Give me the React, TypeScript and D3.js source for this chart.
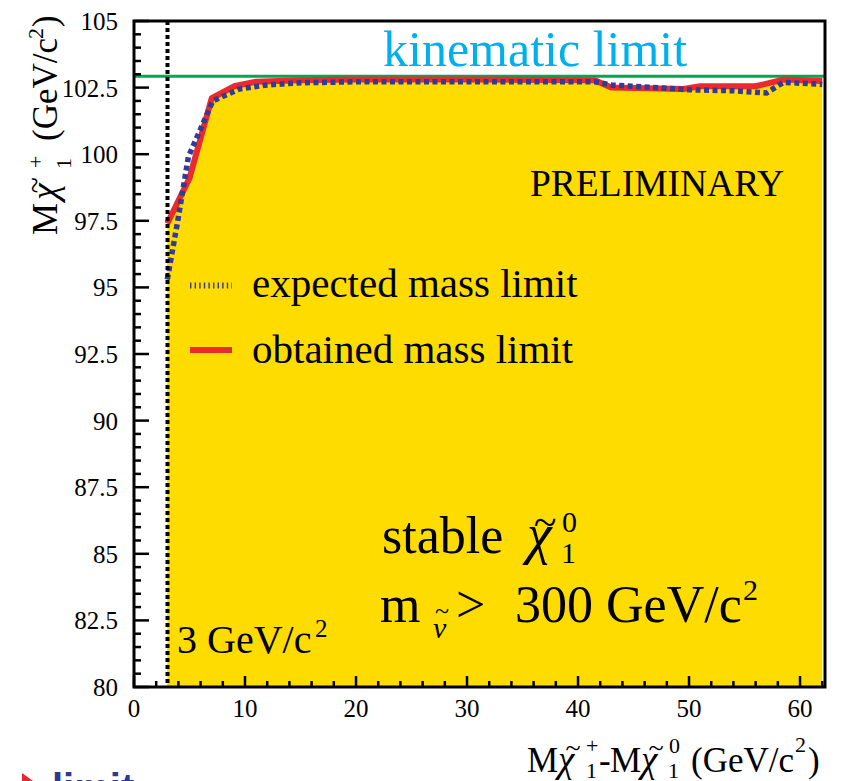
import React from "react";
import * as d3 from "d3";

const W = 843;
const H = 781;

// obtained (observed) chargino mass limit vs deltaM
const dmObtained = [3, 5, 7, 9, 11, 15, 20, 30, 41.5, 43, 49.5, 51, 56, 58.5, 62];
const mObtained = [97.4, 99.1, 102.1, 102.55, 102.72, 102.78, 102.8, 102.8, 102.78, 102.5, 102.45, 102.55, 102.55, 102.8, 102.75];
// expected mass limit
const dmExpected = [3, 3.9, 4.9, 7.1, 9.5, 12, 15, 20, 30, 41.5, 43, 50, 54, 57, 58.5, 62];
const mExpected = [95.3, 97.4, 99.9, 102.0, 102.45, 102.6, 102.68, 102.72, 102.72, 102.72, 102.6, 102.42, 102.38, 102.3, 102.7, 102.62];

const kinematicLimit = 102.93;
const dmCut = 3;

const yTickValues = [80, 82.5, 85, 87.5, 90, 92.5, 95, 97.5, 100, 102.5, 105];
const yTickLabels = ["80", "82.5", "85", "87.5", "90", "92.5", "95", "97.5", "100", "102.5", "105"];
const xTickValues = [0, 10, 20, 30, 40, 50, 60];
const xTickLabels = ["0", "10", "20", "30", "40", "50", "60"];

const L = 134, R = 825, T = 21, B = 687;
const SERIF = "'Liberation Serif', 'Times New Roman', serif";

const YELLOW = "#FFDC00";
const RED = "#EB2A2E";
const BLUE = "#353A96";
const GREEN = "#00A651";
const CYAN = "#00B0EC";

function Tilde({ cx, y, size }: { cx: number; y: number; size: number }) {
  return (
    <text x={cx} y={y} fontSize={size} textAnchor="middle">
      ~
    </text>
  );
}

function Chi({ x, y, size }: { x: number; y: number; size: number }) {
  return (
    <text x={x} y={y} fontSize={size} fontStyle="italic">
      χ
    </text>
  );
}

export default function App() {
  const x = d3.scaleLinear().domain([0, 62.25]).range([L, R]);
  const y = d3.scaleLinear().domain([80, 105]).range([B, T]);

  const obs = dmObtained.map((d, i) => [d, mObtained[i]] as [number, number]);
  const exp = dmExpected.map((d, i) => [d, mExpected[i]] as [number, number]);

  const line = d3
    .line<[number, number]>()
    .x((d) => x(d[0]))
    .y((d) => y(d[1]));
  const area = d3
    .area<[number, number]>()
    .x((d) => x(d[0]))
    .y0(y(80))
    .y1((d) => y(d[1]));

  const yMinor = d3.range(80, 105.001, 0.5);
  const xMinor = d3.range(0, 62.01, 2);

  return (
    <svg
      width={W}
      height={H}
      style={{ position: "absolute", left: 0, top: 0, display: "block", background: "#fff" }}
      fontFamily={SERIF}
    >
      {/* fill */}
      <path d={area(obs) || ""} fill={YELLOW} />
      {/* kinematic limit */}
      <line x1={L} x2={R} y1={y(kinematicLimit)} y2={y(kinematicLimit)} stroke={GREEN} strokeWidth={3} />
      {/* curves */}
      <path d={line(obs) || ""} fill="none" stroke={RED} strokeWidth={6} strokeLinejoin="round" />
      <path d={line(exp) || ""} fill="none" stroke={BLUE} strokeWidth={5.5} strokeDasharray="5 3.5" />
      {/* 3 GeV cut */}
      <line x1={Math.round(x(dmCut)) + 0.5} x2={Math.round(x(dmCut)) + 0.5} y1={T} y2={B} stroke="#000" strokeWidth={4} strokeDasharray="4 3" />

      {/* frame */}
      <rect x={L} y={T} width={R - L} height={B - T} fill="none" stroke="#000" strokeWidth={3} />
      {yMinor.map((v, i) => {
        const major = Math.abs((v - 80) / 2.5 - Math.round((v - 80) / 2.5)) < 1e-6;
        return (
          <line key={"ym" + i} x1={L} x2={L + (major ? 15 : 7)} y1={y(v)} y2={y(v)} stroke="#000" strokeWidth={2.5} />
        );
      })}
      {xMinor.map((v, i) => {
        const major = Math.abs(v % 10) < 1e-6;
        return (
          <line key={"xm" + i} x1={x(v)} x2={x(v)} y1={B} y2={B - (major ? 11 : 6)} stroke="#000" strokeWidth={2.5} />
        );
      })}
      {yTickValues.map((v, i) => (
        <text key={"yl" + i} x={118} y={y(v) + 9} fontSize={25} textAnchor="end">
          {yTickLabels[i]}
        </text>
      ))}
      {xTickValues.map((v, i) => (
        <text key={"xl" + i} x={x(v)} y={717} fontSize={25} textAnchor="middle">
          {xTickLabels[i]}
        </text>
      ))}

      {/* kinematic limit label */}
      <text x={383} y={66} fontSize={50} fill={CYAN}>
        kinematic limit
      </text>
      <text x={530} y={196} fontSize={37.5}>
        PRELIMINARY
      </text>

      {/* legend */}
      <line x1={190} x2={232} y1={285.5} y2={285.5} stroke={BLUE} strokeWidth={6} strokeDasharray="1.4 3.2" />
      <text x={252} y={297} fontSize={41}>
        expected mass limit
      </text>
      <line x1={190} x2={232} y1={350} y2={350} stroke={RED} strokeWidth={6} />
      <text x={252} y={363} fontSize={41}>
        obtained mass limit
      </text>

      {/* stable chi */}
      <text x={382} y={553} fontSize={52}>
        stable
      </text>
      <Chi x={527} y={553} size={56} />
      <Tilde cx={545} y={536} size={42} />
      <text x={562} y={532} fontSize={30}>
        0
      </text>
      <text x={561} y={563} fontSize={30}>
        1
      </text>
      <text x={380} y={622} fontSize={52}>
        m
      </text>
      <text x={433} y={638} fontSize={30} fontStyle="italic">
        ν
      </text>
      <Tilde cx={442} y={619} size={26} />
      <text x={456} y={622} fontSize={52}>
        &gt;
      </text>
      <text x={515} y={622} fontSize={52}>
        300 GeV/c
      </text>
      <text x={743} y={600} fontSize={30}>
        2
      </text>

      {/* 3 GeV/c2 */}
      <text x={177} y={653} fontSize={40}>
        3 GeV/c
      </text>
      <text x={315} y={637} fontSize={25}>
        2
      </text>

      {/* y title */}
      <g transform="translate(57,235) rotate(-90)">
        <text x={0} y={0} fontSize={36}>
          M
        </text>
        <Chi x={35} y={0} size={38} />
        <Tilde cx={50} y={-12} size={30} />
        <text x={67} y={-14} fontSize={22}>
          +
        </text>
        <text x={66} y={14} fontSize={22}>
          1
        </text>
        <text x={94} y={0} fontSize={35}>
          (GeV/c
        </text>
        <text x={196} y={-14} fontSize={22}>
          2
        </text>
        <text x={208} y={0} fontSize={35}>
          )
        </text>
      </g>

      {/* x title */}
      <g>
        <text x={527} y={772} fontSize={35}>
          M
        </text>
        <Chi x={558} y={772} size={37} />
        <Tilde cx={573} y={757} size={28} />
        <text x={586} y={753} fontSize={22}>
          +
        </text>
        <text x={586} y={778} fontSize={22}>
          1
        </text>
        <text x={599} y={772} fontSize={35}>
          -
        </text>
        <text x={610} y={772} fontSize={35}>
          M
        </text>
        <Chi x={641} y={772} size={37} />
        <Tilde cx={656} y={757} size={28} />
        <text x={669} y={753} fontSize={22}>
          0
        </text>
        <text x={668} y={778} fontSize={22}>
          1
        </text>
        <text x={691} y={772} fontSize={35}>
          (GeV/c
        </text>
        <text x={795} y={752} fontSize={22}>
          2
        </text>
        <text x={808} y={772} fontSize={35}>
          )
        </text>
      </g>

      {/* cropped footer fragment */}
      <polygon points="22,773 33,781 22,781" fill="#E8262C" />
      <text x={52} y={802} fontSize={40} fontWeight="bold" fontFamily="'Liberation Sans', Arial, sans-serif" fill="#2B3990">
        limit
      </text>
    </svg>
  );
}
